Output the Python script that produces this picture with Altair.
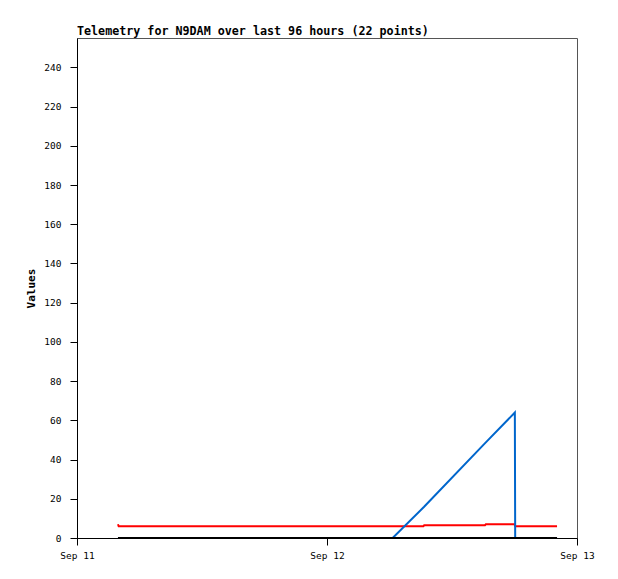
import altair as alt
import pandas as pd

# series data (times UTC)
black_t = ["2024-09-11T03:56Z", "2024-09-12T22:05Z"]
black_v = [0, 0]

red_t = ["2024-09-11T03:56Z", "2024-09-11T04:00Z", "2024-09-12T09:15Z", "2024-09-12T09:20Z",
         "2024-09-12T15:10Z", "2024-09-12T15:15Z", "2024-09-12T18:00Z", "2024-09-12T18:05Z",
         "2024-09-12T22:05Z"]
red_v = [7, 6, 6, 6.5, 6.5, 7, 7, 6, 6]

blue_t = ["2024-09-11T03:56Z", "2024-09-12T06:18Z", "2024-09-12T09:18Z", "2024-09-12T15:12Z",
          "2024-09-12T18:02Z", "2024-09-12T18:04Z", "2024-09-12T22:05Z"]
blue_v = [0, 0, 15.8, 48.5, 64, 0, 0]

x_ticks = ["2024-09-11T00:00Z", "2024-09-12T00:00Z", "2024-09-13T00:00Z"]
y_ticks = list(range(0, 241, 20))

rows = []
for name, ts, vs in [("red", red_t, red_v), ("blue", blue_t, blue_v), ("black", black_t, black_v)]:
    for i, (t, v) in enumerate(zip(ts, vs)):
        rows.append({"series": name, "time": t, "value": v, "idx": i})
df = pd.DataFrame(rows)

colors = {"red": "#ff0000", "blue": "#0066cc", "black": "#000000"}

layers = []
for name in ["red", "blue", "black"]:
    layers.append(
        alt.Chart(df[df.series == name]).mark_line(color=colors[name], strokeWidth=2, interpolate="linear").encode(
            x=alt.X("time:T",
                    scale=alt.Scale(type="utc", domain=[x_ticks[0], x_ticks[-1]]),
                    axis=alt.Axis(title=None, labelExpr="utcFormat(datum.value, '%b %d')",
                                  values=x_ticks,
                                  grid=False, labelFont="DejaVu Sans Mono", labelFontSize=9.5,
                                  labelColor="#000", tickColor="#000", domainColor="#000",
                                  tickSize=7, labelPadding=5, labelFlush=False)),
            y=alt.Y("value:Q", scale=alt.Scale(domain=[0, 255], nice=False),
                    axis=alt.Axis(title="Values", values=y_ticks, grid=False,
                                  labelFont="DejaVu Sans Mono", labelFontSize=9.5, labelColor="#000",
                                  tickColor="#000", domainColor="#000", tickSize=7, labelPadding=9,
                                  titleFont="DejaVu Sans Mono", titleFontSize=11, titleFontWeight="bold",
                                  titleColor="#000", titlePadding=7)),
            order="idx:Q",
        )
    )

chart = alt.layer(*layers).properties(
    width=500, height=500,
    title=alt.TitleParams("Telemetry for N9DAM over last 96 hours (22 points)", anchor="start",
                          frame="group",
                          font="DejaVu Sans Mono", fontSize=11.7, fontWeight="bold", color="#000",
                          offset=0),
    autosize=alt.AutoSizeParams(type="none"),
    padding={"left": 69, "top": 30, "right": 25, "bottom": 35},
).configure_view(stroke="#555", strokeWidth=1)

chart.save("out.html", embed_options={"renderer": "svg", "actions": False})
